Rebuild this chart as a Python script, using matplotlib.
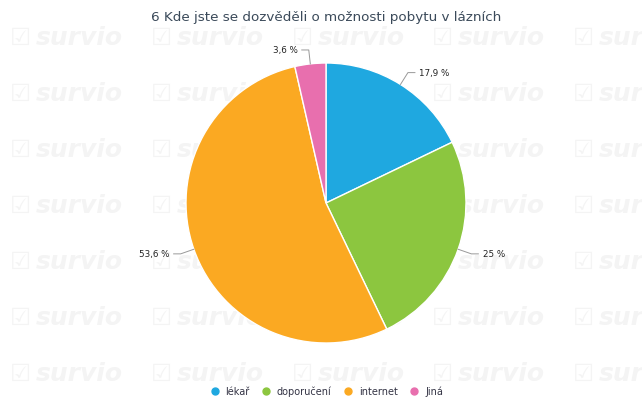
import matplotlib.pyplot as plt
import numpy as np

title = "6 Kde jste se dozvěděli o možnosti pobytu v lázních"
categories = ["lékař", "doporučení", "internet", "Jiná"]
counts = [5, 7, 15, 1]
labels = ["17,9 %", "25 %", "53,6 %", "3,6 %"]
colors = ["#1fa8e0", "#8cc63f", "#fba922", "#e86fae"]

fig = plt.figure(figsize=(6.42, 4.10), dpi=100)
fig.patch.set_facecolor("white")

# background watermark grid, in its own axes behind everything
bg = fig.add_axes([0, 0, 1, 1], zorder=-10)
bg.set_xlim(0, 642)
bg.set_ylim(410, 0)
bg.axis("off")
for row in range(7):
    for col in range(5):
        x = 10 + col * 140.75
        y = 38 + row * 56
        bg.text(x, y, "☑", fontsize=17, color="#f4f4f4", va="center", ha="left",
                clip_on=True)
        bg.text(x + 26, y, "survio", fontsize=18, color="#f4f4f4",
                fontweight="bold", style="italic", va="center", ha="left",
                clip_on=True)

ax = fig.add_axes([(326 - 140) / 642, (410 - 344) / 410, 280 / 642, 280 / 410])
ax.set_facecolor("none")
wedges, _ = ax.pie(counts, colors=colors, startangle=90, counterclock=False,
                   wedgeprops=dict(edgecolor="white", linewidth=1))
ax.set_xlim(-1, 1)
ax.set_ylim(-1, 1)
ax.set_aspect("equal")
ax.axis("off")

for w, lab in zip(wedges, labels):
    ang = np.deg2rad((w.theta1 + w.theta2) / 2)
    cx, cy = np.cos(ang), np.sin(ang)
    sign = 1 if cx >= 0 else -1
    ex, ey = 1.1 * cx, 1.1 * cy
    hx = ex + sign * 0.05
    ax.plot([cx, ex, hx], [cy, ey, ey], color="#999999", lw=0.7, clip_on=False)
    ax.text(hx + sign * 0.03, ey, lab, fontsize=6.3, color="#222222",
            ha="left" if sign > 0 else "right", va="center")

fig.text(326 / 642, 1 - 18 / 410, title, fontsize=9.7, color="#3b4a5a",
         ha="center", va="center")

handles = [plt.Line2D([], [], marker="o", ls="", color=c, markersize=5) for c in colors]
fig.legend(handles, categories, loc="center", bbox_to_anchor=(324 / 642, 1 - 392 / 410),
           ncol=4, frameon=False, fontsize=7, handletextpad=0.1, columnspacing=0.7,
           labelcolor="#333344")

fig.savefig("out.png", dpi=100)
